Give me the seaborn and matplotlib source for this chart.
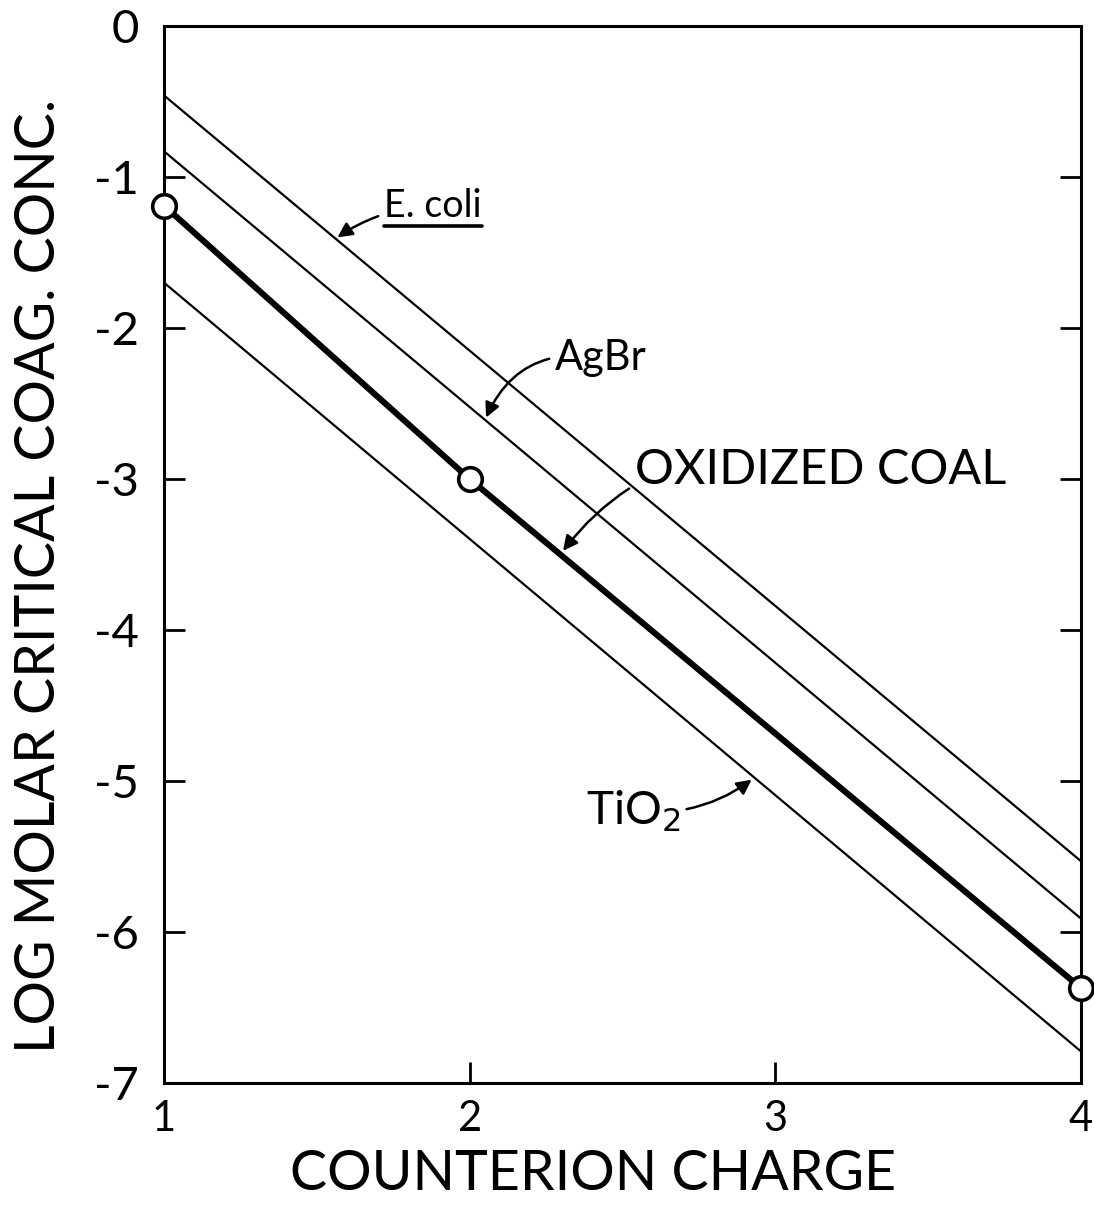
import matplotlib
matplotlib.use("Agg")
import matplotlib.pyplot as plt
import seaborn as sns
import pandas as pd
from matplotlib.lines import Line2D
from matplotlib.text import Text

# ---- data ----
line_x = [1, 4]
ecoli_y = [-0.46, -5.53]
agbr_y = [-0.83, -5.91]
tio2_y = [-1.70, -6.79]
coal_x = [1, 2, 4]
coal_y = [-1.19, -3.00, -6.37]
x_ticks = [1, 2, 3, 4]
y_ticks = [0, -1, -2, -3, -4, -5, -6, -7]
x_label = "COUNTERION CHARGE"
y_label = "LOG MOLAR CRITICAL COAG. CONC."

sns.set_style("white")
plt.rcParams['font.family'] = ['Lato', 'DejaVu Sans']
plt.rcParams['font.weight'] = 'normal'
for k in ("text.color", "axes.labelcolor", "xtick.color", "ytick.color", "axes.edgecolor"):
    plt.rcParams[k] = "black"

fig = plt.figure(figsize=(10.94, 12.05), dpi=100)
ax = fig.add_axes([0.150, 0.1012, 0.838, 0.8772])

thin = dict(color="black", linewidth=1.6)
for yv in (ecoli_y, agbr_y, tio2_y):
    sns.lineplot(x=line_x, y=yv, ax=ax, **thin)

coal = pd.DataFrame({"x": coal_x, "y": coal_y})
sns.lineplot(data=coal, x="x", y="y", ax=ax, color="black", linewidth=4.4)
ax.plot(coal_x, coal_y, linestyle="none", marker="o", markersize=17,
        markerfacecolor="white", markeredgecolor="black", markeredgewidth=2.6,
        clip_on=False, zorder=5)

ax.set_xlim(1, 4)
ax.set_ylim(-7, 0)
ax.set_xticks(x_ticks)
ax.set_yticks(y_ticks)
ax.set_xticklabels([str(v) for v in x_ticks], fontsize=30)
ax.set_yticklabels([f"{v}" if v == 0 else f"-{abs(v)}" for v in y_ticks],
                   fontsize=34)
ax.tick_params(axis="both", direction="in", length=15, width=2,
               left=True, right=True, bottom=True, top=False)
ax.tick_params(axis="x", pad=12)
ax.tick_params(axis="y", pad=18)
for s in ax.spines.values():
    s.set_linewidth(2.2)
    s.set_color("black")

ax.set_xlabel(x_label, fontsize=40)
ax.set_ylabel(y_label, fontsize=40)
ax.xaxis.set_label_coords(0.468, -0.062)
ax.yaxis.set_label_coords(-0.108, 0.48)

arrow = dict(arrowstyle="-|>", color="black", linewidth=1.8, mutation_scale=22)
ecoli_txt = ax.annotate("E. coli", xy=(1.56, -1.41), xytext=(1.72, -1.19),
            fontsize=27, va="center", ha="left",
            arrowprops=dict(connectionstyle="arc3,rad=0.15", **arrow))
ax.annotate("AgBr", xy=(2.05, -2.61), xytext=(2.28, -2.2),
            fontsize=30, va="center", ha="left",
            arrowprops=dict(connectionstyle="arc3,rad=0.4", **arrow))
ax.annotate("OXIDIZED COAL", xy=(2.30, -3.49), xytext=(2.54, -2.94),
            fontsize=35, va="center", ha="left",
            arrowprops=dict(connectionstyle="arc3,rad=0.35", **arrow))
ax.annotate(r"TiO$_2$", xy=(2.93, -4.98), xytext=(2.69, -5.2),
            fontsize=33, va="center", ha="right",
            arrowprops=dict(connectionstyle="arc3,rad=0.2", **arrow))

# underline for E. coli (text extent only, without the arrow)
fig.canvas.draw()
bb = Text.get_window_extent(ecoli_txt, renderer=fig.canvas.get_renderer())
inv = fig.transFigure.inverted()
(x0, y0) = inv.transform((bb.x0, bb.y0 - 2))
(x1, _) = inv.transform((bb.x1, bb.y0 - 2))
fig.add_artist(Line2D([x0, x1], [y0, y0], color="black", linewidth=2.6))

fig.savefig("out.png", dpi=100, facecolor="white")
